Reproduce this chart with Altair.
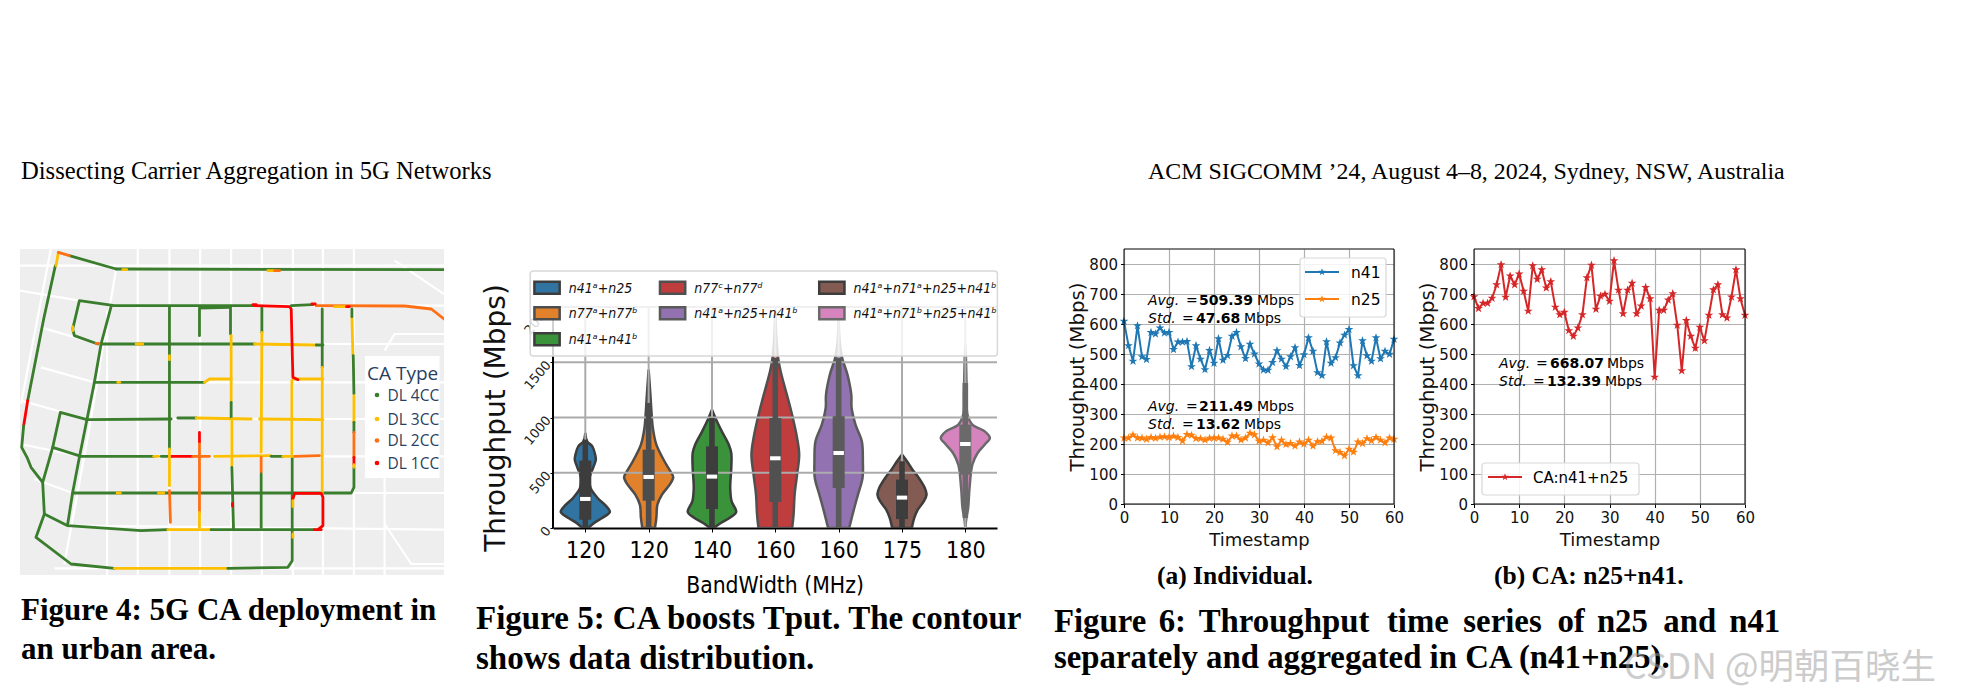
import altair as alt
import pandas as pd

# ---------- page text ----------
HEADER_LEFT = "Dissecting Carrier Aggregation in 5G Networks"
HEADER_RIGHT = "ACM SIGCOMM ’24, August 4–8, 2024, Sydney, NSW, Australia"
CAP4 = ["Figure 4: 5G CA deployment in", "an urban area."]
CAP5 = ["Figure 5: CA boosts Tput. The contour", "shows data distribution."]
CAP6_WORDS = ["Figure", "6:", "Throughput", "time", "series", "of", "n25", "and", "n41"]
CAP6_LINE2 = "separately and aggregated in CA (n41+n25)."
SUB_A = "(a) Individual."
SUB_B = "(b) CA: n25+n41."
WATERMARK = "CSDN @明朝百晓生"

# ---------- time series ----------
T = list(range(61))
N41 = [609,528,476,594,491,482,572,567,587,570,572,515,540,540,542,458,528,483,448,512,469,551,479,495,559,572,524,485,533,500,467,447,446,472,511,483,458,491,521,462,498,554,509,438,428,541,469,488,537,563,582,461,428,544,494,476,554,484,509,499,549]
N25 = [220,220,230,220,220,216,222,219,223,224,222,226,222,210,232,229,218,218,213,219,220,220,216,206,227,227,213,220,236,231,209,213,204,221,191,213,198,202,193,207,200,213,193,208,209,223,220,178,172,161,183,173,207,202,218,211,222,213,204,220,216]
CA = [691,652,669,669,686,731,798,689,760,731,767,709,643,794,749,781,720,741,656,631,639,578,559,587,631,754,796,649,693,699,676,811,713,634,713,736,634,660,722,684,423,646,646,680,701,596,444,612,559,519,589,544,629,714,731,631,620,690,781,684,629]

# ---------- violins: throughput (Mbps) and half-width ----------
BW = ["120", "120", "140", "160", "160", "175", "180"]
VIOLIN_NAMES = ["n41ᵃ+n25", "n77ᵃ+n77ᵇ", "n41ᵃ+n41ᵇ", "n77ᶜ+n77ᵈ", "n41ᵃ+n25+n41ᵇ", "n41ᵃ+n71ᵃ+n25+n41ᵇ", "n41ᵃ+n71ᵇ+n25+n41ᵇ"]
V_COLORS = ["#3274a1", "#e1812c", "#3a923a", "#c03d3e", "#9372b2", "#845b53", "#d684bd"]
V_EDGES = ["#3d3d3d", "#4d4d4d", "#3d3d3d", "#505050", "#5a5a5a", "#3d3d3d", "#6a6a6a"]
V_SHAPE = [
    [(860,0),(785,5),(739,20),(664,28),(619,30),(543,22),(453,12),(362,15),(272,35),(196,60),(145,70),(91,48),(45,25),(0,8)],
    [(1434,0),(1207,5),(1056,8),(905,12),(754,22),(604,45),(513,62),(459,70),(392,60),(302,38),(211,25),(91,22),(0,18)],
    [(1071,0),(966,14),(875,28),(754,48),(679,55),(543,55),(362,52),(241,56),(145,69),(91,50),(45,25),(0,5)],
    [(1962,0),(1720,3),(1539,8),(1418,15),(1298,25),(1147,38),(996,50),(815,62),(664,68),(483,62),(302,55),(121,52),(0,48)],
    [(1901,0),(1690,3),(1539,10),(1388,25),(1207,36),(1086,37),(936,48),(785,66),(604,69),(453,68),(302,55),(151,42),(0,30)],
    [(664,0),(604,14),(528,30),(453,48),(362,65),(302,70),(241,62),(166,45),(91,35),(0,28)],
    [(1660,0),(1509,2),(1207,4),(1026,6),(936,20),(875,55),(815,70),(754,55),(679,35),(573,20),(362,12),(181,8),(91,3),(0,0)],
]
V_Q1 = [75, 247, 172, 235, 362, 81, 483]
V_Q3 = [610, 709, 739, 996, 1011, 438, 936]
V_MED = [263, 462, 465, 631, 679, 275, 760]
V_HI = [800, 1132, 996, 1539, 1539, 604, 1313]
V_LO = [0, 0, 0, 0, 0, 0, 91]

# ---------- map (street-map units) ----------
ROADS = [
    [(57,105),(1328,105)], [(57,180),(235,210),(340,225),(1328,225)], [(120,290),(290,340),(1328,340)], [(120,410),(280,455),(1328,455)],
    [(60,510),(258,565),(1328,565)], [(57,640),(240,677),(1328,677)], [(100,745),(215,787),(1328,787)], [(130,850),(200,885),(1328,897)], [(160,1013),(1328,1013)],
    [(318,240),(318,1033)], [(505,52),(505,1033)], [(597,52),(597,1033)], [(690,52),(690,1033)], [(782,52),(782,1033)],
    [(875,52),(875,1033)], [(965,52),(965,1033)], [(1058,52),(1058,1033)], [(1150,700),(1150,1033)],
    [(345,115),(260,620),(190,1000)], [(1150,360),(1180,310),(1328,310)], [(1150,880),(1230,1000),(1328,1000)],
    [(150,52),(60,520)], [(1180,90),(1328,190)], [(410,52),(410,1033)], [(1100,787),(1328,787)],
]
ROUTE_TYPES = ["DL 4CC", "DL 3CC", "DL 2CC", "DL 1CC"]
ROUTE_COLORS = ["#3a7d2c", "#fcc000", "#ff6f13", "#ff0000"]
ROUTES = [
    (0,[(345,115),(1328,117)]), (0,[(205,75),(345,115)]), (0,[(163,105),(128,265),(80,510)]),
    (1,[(165,105),(172,65)]), (2,[(172,65),(205,75)]), (1,[(365,117),(377,117)]), (1,[(800,120),(820,120)]), (2,[(820,120),(835,120)]),
    (3,[(80,510),(68,585)]),
    (0,[(68,585),(62,650),(78,680),(90,710),(125,755),(130,850),(105,920),(210,1000),(340,1013)]),
    (1,[(340,1013),(680,1013)]), (0,[(680,1013),(860,1010),(873,990),(873,680)]),
    (0,[(760,225),(340,225),(235,210),(215,295),(220,315),(290,340)]),
    (0,[(330,228),(300,340),(280,455),(258,565),(235,680),(215,785),(200,880)]),
    (0,[(125,755),(155,650),(178,545),(258,567),(510,565)]), (0,[(530,562),(585,562)]),
    (0,[(300,340),(760,340)]), (1,[(760,340),(945,343)]), (0,[(945,343),(965,343)]), (1,[(405,340),(425,340)]),
    (0,[(280,455),(610,455)]), (1,[(610,455),(625,445),(690,445)]), (1,[(875,445),(965,445)]),
    (1,[(585,562),(750,565)]), (1,[(775,565),(965,567)]),
    (0,[(155,650),(240,677),(460,677)]), (1,[(458,677),(472,677)]), (0,[(480,677),(510,677)]), (3,[(510,677),(575,677)]),
    (2,[(575,677),(625,677)]), (1,[(640,677),(810,675)]), (0,[(810,677),(845,677)]), (1,[(845,677),(880,677)]), (2,[(880,677),(955,675)]),
    (0,[(215,787),(1050,787),(1058,770),(1058,710)]), (1,[(348,787),(358,787)]), (1,[(472,787),(488,787)]),
    (0,[(130,850),(200,885),(420,900),(500,897)]), (1,[(500,897),(630,897)]), (0,[(630,897),(940,897)]), (3,[(940,897),(960,897)]),
    (0,[(505,230),(505,655)]), (1,[(505,655),(505,765)]), (2,[(505,780),(508,875)]), (1,[(505,375),(505,387)]),
    (0,[(595,315),(595,232),(685,230)]), (3,[(595,605),(595,635)]), (2,[(595,640),(595,845)]), (1,[(595,845),(595,890)]),
    (0,[(688,230),(688,310)]), (1,[(690,315),(690,510)]), (0,[(690,515),(690,560)]), (1,[(692,565),(692,705)]), (0,[(692,710),(697,895)]), (3,[(694,818),(694,826)]),
    (0,[(782,232),(782,305)]), (1,[(782,305),(780,665)]), (2,[(780,680),(780,725)]), (0,[(780,730),(780,890)]),
    (3,[(760,225),(865,228),(870,235),(875,440),(890,447)]), (1,[(872,450),(872,670)]),
    (0,[(870,225),(935,222)]), (2,[(945,225),(1210,226),(1290,235),(1328,265)]), (1,[(1000,228),(1035,228)]),
    (0,[(963,235),(963,410)]), (1,[(963,410),(963,790)]),
    (1,[(1052,258),(1055,375)]), (0,[(1056,375),(1058,490)]), (1,[(1058,495),(1058,575)]), (0,[(1058,575),(1058,605)]), (2,[(1058,605),(1058,680)]), (3,[(1058,680),(1058,702)]), (1,[(1058,702),(1058,710)]),
    (0,[(1052,235),(1052,258)]),
    (3,[(875,805),(880,788),(960,788),(965,800),(965,885),(950,897)]), (1,[(875,810),(875,828)]), (1,[(875,910),(875,920)]),
    (3,[(755,222),(765,222)]), (3,[(932,220),(942,220)]), (3,[(1036,228),(1044,228)]), (2,[(285,338),(293,338)]), (1,[(215,288),(215,300)]),
    (1,[(350,455),(356,455)]),
]
MAP_LEGEND_TITLE = "CA Type"

STAR = "M0,-1L0.24,-0.31L0.95,-0.31L0.38,0.12L0.59,0.81L0,0.38L-0.59,0.81L-0.38,0.12L-0.95,-0.31L-0.24,-0.31Z"
ONE = alt.Data(values=[{}])
DJ = "DejaVu Sans"
DJC = "DejaVu Sans Condensed"
SERIF = "Liberation Serif"


def txt(s, x, y, size, font=DJ, color="#000000", align="left", baseline="alphabetic", **kw):
    return alt.Chart(ONE).mark_text(text=s, font=font, fontSize=size, color=color, align=align,
                                    baseline=baseline, **kw).encode(x=alt.value(x), y=alt.value(y))


def box(x, x2, y, y2, **kw):
    return alt.Chart(ONE).mark_rect(**kw).encode(x=alt.value(x), x2=alt.value(x2), y=alt.value(y), y2=alt.value(y2))


def hline(x, x2, y, color, w=2):
    return alt.Chart(ONE).mark_rule(color=color, strokeWidth=w).encode(x=alt.value(x), x2=alt.value(x2), y=alt.value(y))


def star(x, y, color):
    return alt.Chart(ONE).mark_point(shape=STAR, filled=True, size=60, color=color, opacity=1).encode(x=alt.value(x), y=alt.value(y))


def page(s, px, py, size, **kw):
    return txt(s, px - 19, py - 248, size, **kw)


# ---------- map panel ----------
MW, MH = 424, 326
mx = alt.X("x:Q", scale=alt.Scale(domain=[57, 1328], nice=False, zero=False), axis=None)
my = alt.Y("y:Q", scale=alt.Scale(domain=[1033, 55], nice=False, zero=False), axis=None)

road_rows = [{"id": i, "seq": j, "x": p[0], "y": p[1]} for i, r in enumerate(ROADS) for j, p in enumerate(r)]
route_rows = [{"id": i, "seq": j, "x": p[0], "y": p[1], "t": ROUTE_TYPES[k]} for i, (k, r) in enumerate(ROUTES) for j, p in enumerate(r)]

map_bg = box(0, MW, 0, MH, color="#eeeeee")
map_roads = alt.Chart(pd.DataFrame(road_rows)).mark_line(color="#ffffff", strokeWidth=2.2, clip=True).encode(
    x=mx, y=my, detail="id:N", order="seq:Q")
map_routes = alt.Chart(pd.DataFrame(route_rows)).mark_line(strokeWidth=2.8, strokeCap="round", strokeJoin="round", clip=True).encode(
    x=mx, y=my, detail="id:N", order="seq:Q",
    color=alt.Color("t:N", scale=alt.Scale(domain=ROUTE_TYPES, range=ROUTE_COLORS), legend=None))
SLATE = "#2a3f5f"
map_leg = [box(345, 419.5, 107, 229, color="#ffffff"), txt(MAP_LEGEND_TITLE, 347, 131, 19, font="Open Sans", color=SLATE)]
for i, lab in enumerate(ROUTE_TYPES):
    yy = [146, 170, 191.5, 214][i]
    map_leg.append(alt.Chart(ONE).mark_point(shape="circle", filled=True, size=22, color=ROUTE_COLORS[i], opacity=1).encode(
        x=alt.value(357), y=alt.value(yy)))
    map_leg.append(txt(lab, 367.5, yy + 5.5, 15.5, font="Open Sans", color=SLATE))

anchor = alt.Chart(ONE).mark_point(opacity=0, size=1).encode(x=alt.value(-11), y=alt.value(-240))
CAP6_X = [22, 200, 268, 588, 718, 878, 945, 1058, 1170]
page_texts = [
    page(HEADER_LEFT, 20, 178, 24.6, font=SERIF),
    page(HEADER_RIGHT, 1147, 178, 23.9, font=SERIF),
    page(CAP4[0], 20, 619, 31, font=SERIF, fontWeight="bold"),
    page(CAP4[1], 20, 658, 31, font=SERIF, fontWeight="bold"),
    page(CAP5[0], 475, 628, 33, font=SERIF, fontWeight="bold"),
    page(CAP5[1], 475, 668, 33, font=SERIF, fontWeight="bold"),
    page(CAP6_LINE2, 1053, 667, 32.8, font=SERIF, fontWeight="bold"),
    page(SUB_A, 1156, 583, 25.5, font=SERIF, fontWeight="bold"),
    page(SUB_B, 1493, 583, 25.5, font=SERIF, fontWeight="bold"),
]
for w, c in zip(CAP6_WORDS, CAP6_X):
    page_texts.append(page(w, 1040 + c / 1.7, 631, 32.8, font=SERIF, fontWeight="bold"))
map_panel = alt.layer(anchor, map_bg, map_roads, map_routes, *map_leg, *page_texts).properties(width=MW, height=MH)


# ---------- violin panel ----------
VW, VH = 444, 279
YTOP = 2525
vx_axis = alt.Axis(values=list(range(7)), labelExpr="[" + ",".join(f"'{b}'" for b in BW) + "][datum.value]",
                   title=None, grid=False, domain=True, domainColor="#000000", domainWidth=2,
                   tickColor="#000000", tickSize=4, labelFont=DJC, labelFontSize=23, labelPadding=7, labelColor="#000000")
vy_axis = alt.Axis(values=[0, 500, 1000, 1500, 2000], format="d", title=None, grid=False, domain=False, tickColor="#000000", tickSize=3,
                   labelAngle=-50, labelFontSize=13, labelFont=DJ, labelColor="#222222", labelPadding=2, labelAlign="right", labelBaseline="middle", labelFlush=False)
vxs = alt.Scale(domain=[-0.51, 6.5], nice=False, zero=False)
vys = alt.Scale(domain=[0, YTOP], nice=False)
vx = alt.X("x:Q", scale=vxs, axis=vx_axis)
vy = alt.Y("v:Q", scale=vys, axis=vy_axis)

shape_rows = [{"k": i, "v": v, "x": i - d / 180.5, "x2": i + d / 180.5} for i, s in enumerate(V_SHAPE) for v, d in s]
sdf = pd.DataFrame(shape_rows)
violins = alt.Chart(sdf).mark_area(orient="horizontal", interpolate="catmull-rom", strokeWidth=2.5, opacity=1, clip=True).encode(
    x=alt.X("x:Q", scale=vxs, axis=vx_axis, stack=None), x2="x2:Q", y=vy, detail="k:N",
    fill=alt.Fill("k:N", scale=alt.Scale(domain=list(range(7)), range=V_COLORS), legend=None),
    stroke=alt.Stroke("k:N", scale=alt.Scale(domain=list(range(7)), range=V_EDGES), legend=None))

GRID = "#ababab"
v_hgrid = alt.Chart(pd.DataFrame({"v": [500, 1000, 1500, 2000]})).mark_rule(color=GRID, strokeWidth=2).encode(y=vy)
v_vgrid = alt.Chart(pd.DataFrame({"x": list(range(7)), "v": [0] * 7, "v2": [2000] * 7})).mark_rule(color=GRID, strokeWidth=2).encode(
    x=vx, y=vy, y2="v2:Q")
v_spine = alt.Chart(pd.DataFrame({"v": [0], "v2": [2000]})).mark_rule(color="#000000", strokeWidth=2).encode(
    x=alt.value(0), y=vy, y2="v2:Q")

wdf = pd.DataFrame({"x": range(7), "lo": V_LO, "hi": V_HI, "q1": V_Q1, "q3": V_Q3, "med": V_MED, "edge": V_EDGES})
whisk = alt.Chart(wdf).mark_rule(strokeWidth=5.6).encode(
    x=vx, y=alt.Y("lo:Q", scale=vys, axis=vy_axis), y2="hi:Q",
    color=alt.Color("edge:N", scale=None))
bars = alt.Chart(wdf).mark_rule(strokeWidth=12).encode(
    x=vx, y=alt.Y("q1:Q", scale=vys, axis=vy_axis), y2="q3:Q",
    color=alt.Color("edge:N", scale=None))
meds = alt.Chart(wdf).mark_point(shape="stroke", size=110, strokeWidth=4, color="#ffffff", opacity=1).encode(
    x=vx, y=alt.Y("med:Q", scale=vys, axis=vy_axis))

leg_x = lambda c: (c - 233) / 2.851
leg_y = lambda c: 12 + c / 3
v_leg = [box(leg_x(168), leg_x(1500), leg_y(30), leg_y(285), fill="#ffffff", fillOpacity=0.82, stroke="#d8d8d8", strokeWidth=1.5, cornerRadius=3)]
SW_POS = [(178, 80), (178, 157), (178, 235), (536, 80), (536, 157), (990, 80), (990, 157)]
for i, (cx, cy) in enumerate(SW_POS):
    v_leg.append(box(leg_x(cx + 2), leg_x(cx + 74), leg_y(cy - 18), leg_y(cy + 18), fill=V_COLORS[i], stroke=V_EDGES[i], strokeWidth=2.5))
    v_leg.append(txt(VIOLIN_NAMES[i], leg_x(cx + 100), leg_y(cy + 15), 14, font=DJC, fontStyle="italic", color="#111111"))

v_title = txt("Throughput (Mbps)", -56, 169, 28, align="center", baseline="middle", angle=270, color="#111111")
v_xtitle = txt("BandWidth (MHz)", 222, 344, 22.7, font=DJC, align="center")
violin_panel = alt.layer(violins, v_vgrid, v_hgrid, v_spine, whisk, bars, meds, *v_leg, v_title, v_xtitle).properties(width=VW, height=VH)


# ---------- time-series panels ----------
TH = 255
ts_axis_common = dict(labelFont=DJ, labelFontSize=15, labelColor="#111111", titleFont=DJ, titleFontWeight="normal",
                      titleColor="#111111", grid=True, gridColor="#b0b0b0", gridWidth=1.2, domain=False,
                      tickColor="#000000", tickSize=3.5, tickWidth=1, labelFlush=False, labelOverlap=False)
tx = alt.X("t:Q", scale=alt.Scale(domain=[0, 60], nice=False),
           axis=alt.Axis(values=list(range(0, 61, 10)), title="Timestamp", titleFontSize=18, labelPadding=3, titlePadding=6, **ts_axis_common))
ty = alt.Y("y:Q", scale=alt.Scale(domain=[0, 850], nice=False),
           axis=alt.Axis(values=list(range(0, 801, 100)), title="Throughput (Mbps)", titleFontSize=19.8, labelPadding=3, titlePadding=1, **ts_axis_common))


def series(vals, color):
    df = pd.DataFrame({"t": T, "y": vals})
    ln = alt.Chart(df).mark_line(color=color, strokeWidth=2).encode(x=tx, y=ty)
    pt = alt.Chart(df).mark_point(shape=STAR, filled=True, size=85, color=color, opacity=1).encode(x=tx, y=ty)
    return [ln, pt]


def stat(y, cols, avg_std, num):
    x1, x2, x3, x4 = cols
    return [
        txt(avg_std, x1, y, 14, fontStyle="italic"),
        txt("=", x2, y, 14),
        txt(num, x3, y, 14, fontWeight="bold"),
        txt("Mbps", x4, y, 14),
    ]


def frame(w, h):
    return box(0, w, 0, h, fillOpacity=0, fill="#ffffff", stroke="#000000", strokeWidth=1)


WA, WB = 270, 271
a_leg = [box(176, 262, 9, 68, fill="#ffffff", fillOpacity=0.85, stroke="#d8d8d8", strokeWidth=1.2, cornerRadius=3),
         hline(181, 215, 23, "#1f77b4"), star(198, 23, "#1f77b4"), txt("n41", 227, 29, 15.5),
         hline(181, 215, 50, "#ff7f0e"), star(198, 50, "#ff7f0e"), txt("n25", 227, 56, 15.5)]
panel_a = alt.layer(*series(N41, "#1f77b4"), *series(N25, "#ff7f0e"),
                    *stat(56, (24, 62, 75, 133), "Avg.", "509.39"),
                    *stat(74, (24, 58, 72, 120), "Std.", "47.68"),
                    *stat(162, (24, 62, 75, 133), "Avg.", "211.49"),
                    *stat(180, (24, 58, 72, 120), "Std.", "13.62"),
                    *a_leg, frame(WA, TH)).properties(width=WA, height=TH)

b_leg = [box(8, 165, 214, 246, fill="#ffffff", fillOpacity=0.85, stroke="#d8d8d8", strokeWidth=1.2, cornerRadius=3),
         hline(14, 48, 228, "#d62728"), star(31, 228, "#d62728"), txt("CA:n41+n25", 59, 234, 15)]
wm = txt(WATERMARK, 150, 430, 35.5, font="Noto Sans CJK SC", color="#9a9a9a", opacity=0.5)
panel_b = alt.layer(*series(CA, "#d62728"),
                    *stat(119, (25, 62, 76, 133), "Avg.", "668.07"),
                    *stat(137, (25, 59, 73, 131), "Std.", "132.39"),
                    *b_leg, frame(WB, TH), wm).properties(width=WB, height=TH)


def spacer(w):
    return alt.Chart(ONE).mark_point(opacity=0, size=1).encode(x=alt.value(0), y=alt.value(0)).properties(width=w, height=10)


chart = alt.hconcat(map_panel, spacer(109), violin_panel, spacer(127), panel_a, spacer(80), panel_b,
                    spacing=0, bounds="flush").resolve_scale(x="independent", y="independent", color="independent", fill="independent", stroke="independent"
                    ).properties(padding=0, background="#ffffff").configure_view(stroke=None)

chart.save("out.html", embed_options={"renderer": "svg", "actions": False})
